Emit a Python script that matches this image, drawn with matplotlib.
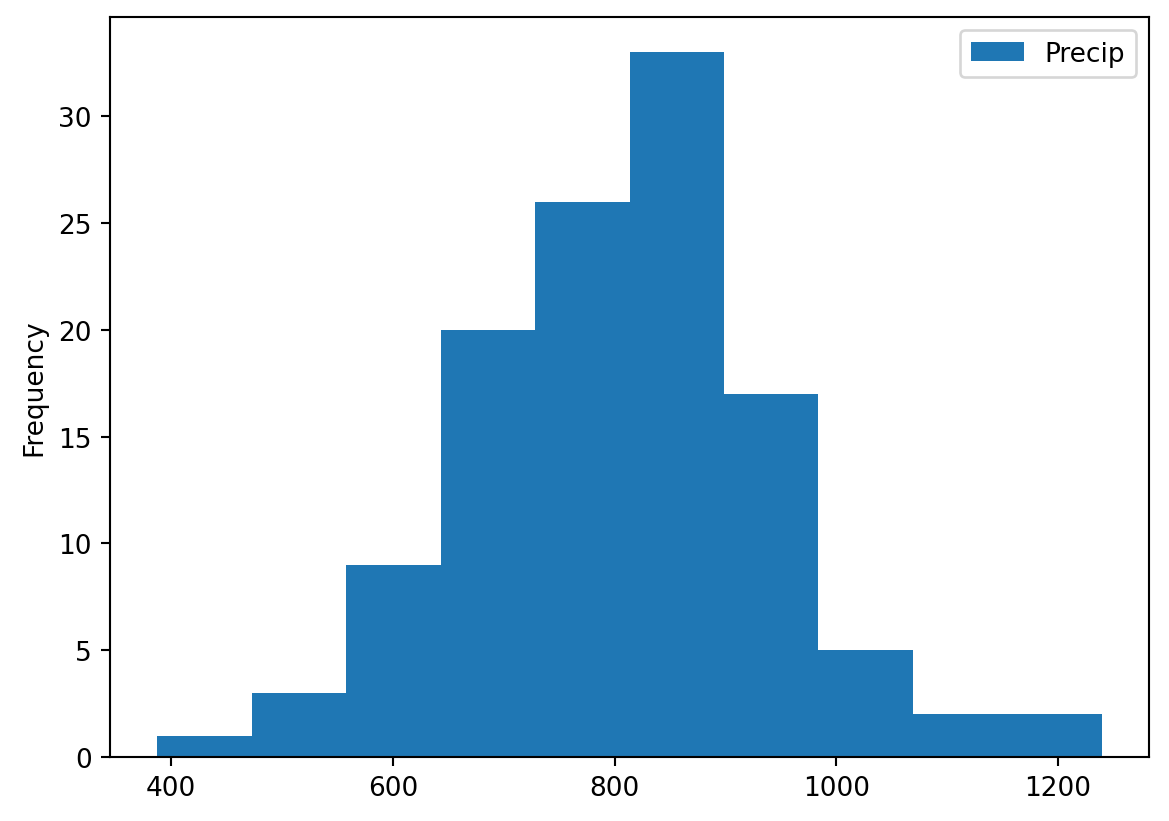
"""
Histogram of precipitation values (10 bins)
"""
import numpy as np
from matplotlib import pyplot as plt

precip_min = 387.4
precip_max = 1239.6
counts = [1, 3, 9, 20, 26, 33, 17, 5, 2, 2]
series_name = 'Precip'

edges = np.linspace(precip_min, precip_max, len(counts) + 1)
centers = (edges[:-1] + edges[1:]) / 2

fig = plt.figure(figsize=(1169 / 190, 822 / 190), dpi=190)
ax = fig.add_axes([0.0941, 0.0779, 0.8888, 0.9002])

ax.hist(centers, bins=edges, weights=counts, color='#1f77b4', label=series_name)
ax.set_ylabel('Frequency')
ax.legend(loc='upper right')

fig.savefig('out.png', dpi=190)
